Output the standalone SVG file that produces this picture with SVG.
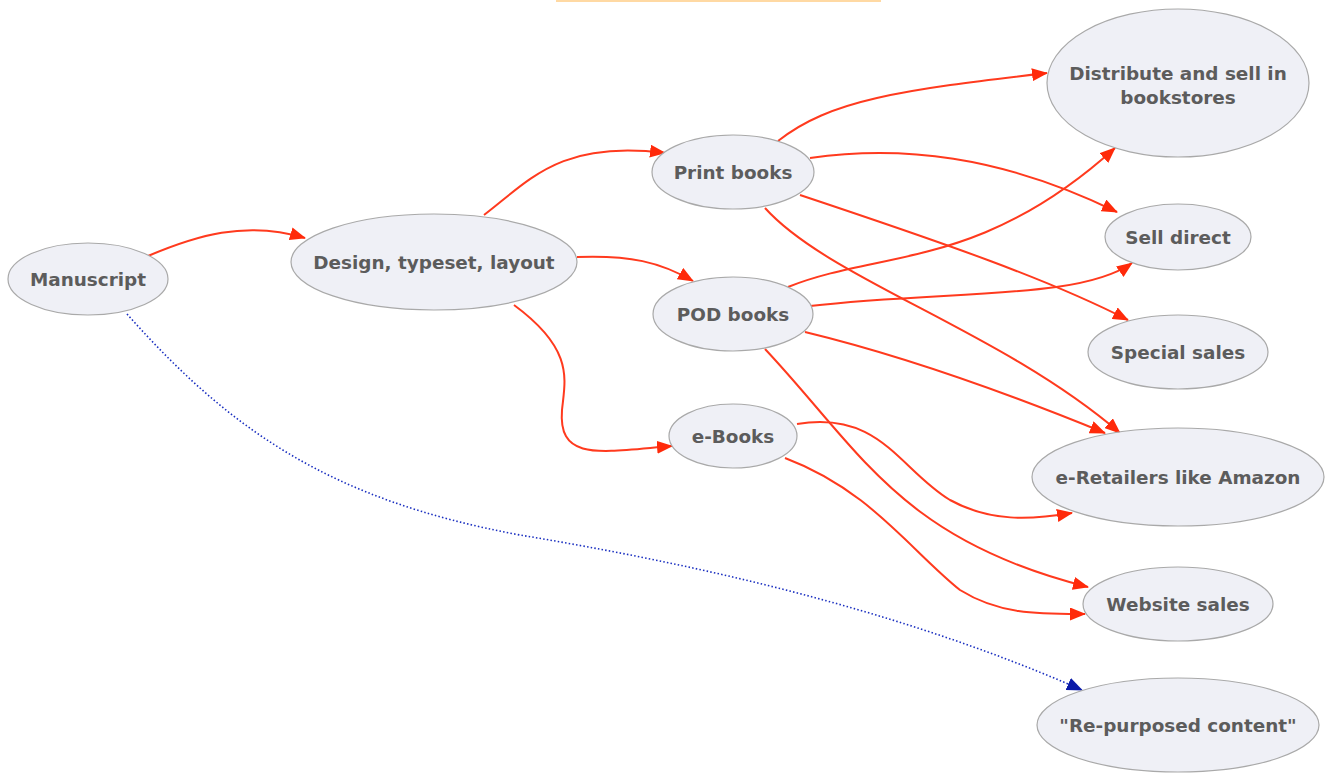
<svg xmlns="http://www.w3.org/2000/svg" width="1328" height="774" viewBox="0 0 1328 774">
<style>
.n ellipse{fill:#eff0f6;stroke:#a9a9a9;stroke-width:1.2}
.n text{font-family:"DejaVu Sans",Verdana,sans-serif;font-weight:bold;font-size:18.4px;fill:#5c5c5c;text-anchor:middle}
.e path{fill:none;stroke:#ff3a1e;stroke-width:2}
.e path.d{stroke:#1a2fc0;stroke-width:1.6;stroke-dasharray:1.5 2.2}
</style>
<defs>
<marker id="ar" viewBox="0 0 16 13" refX="15" refY="6.5" markerWidth="16" markerHeight="13" markerUnits="userSpaceOnUse" orient="auto"><path d="M0,0 L16,6.5 L0,13 Z" fill="#ff2a0a"/></marker>
<marker id="ab" viewBox="0 0 16 13" refX="15" refY="6.5" markerWidth="16" markerHeight="13" markerUnits="userSpaceOnUse" orient="auto"><path d="M0,0 L16,6.5 L0,13 Z" fill="#0a1aa8"/></marker>
</defs>
<rect x="556" y="0" width="325" height="2" fill="#ffd9a3"/>
<g class="e" id="connectors">
<path marker-end="url(#ar)" d="M148,256 C195,236 245,220 305,238"/>
<path marker-end="url(#ar)" d="M484,215 C530,180 560,140 665,153"/>
<path marker-end="url(#ar)" d="M577,257 C630,255 660,262 693,281"/>
<path marker-end="url(#ar)" d="M514,305 C575,350 565,380 562,410 C558,462 600,452 672,446"/>
<path marker-end="url(#ar)" d="M778,141 C830,100 900,90 1047,73"/>
<path marker-end="url(#ar)" d="M810,158 C900,145 1000,155 1117,212"/>
<path marker-end="url(#ar)" d="M800,195 C950,245 1050,280 1128,320"/>
<path marker-end="url(#ar)" d="M765,208 C830,280 1000,330 1120,433"/>
<path marker-end="url(#ar)" d="M788,287 C880,250 980,270 1115,148"/>
<path marker-end="url(#ar)" d="M810,306 C950,290 1080,300 1132,263"/>
<path marker-end="url(#ar)" d="M805,332 C900,355 1000,390 1105,433"/>
<path marker-end="url(#ar)" d="M765,349 C860,450 900,540 1088,587"/>
<path marker-end="url(#ar)" d="M797,424 C880,410 900,470 950,500 C990,522 1030,520 1072,513"/>
<path marker-end="url(#ar)" d="M785,458 C870,490 910,550 960,590 C1000,615 1040,614 1085,614"/>
<path class="d" marker-end="url(#ab)" d="M127,314 C230,430 330,500 520,535 C700,565 900,610 1082,690"/>
</g>
<g class="n" id="manuscript"><ellipse cx="88" cy="279" rx="80" ry="36"/><text x="88" y="286">Manuscript</text></g>
<g class="n" id="design"><ellipse cx="434" cy="262" rx="143" ry="48"/><text x="434" y="269">Design, typeset, layout</text></g>
<g class="n" id="print"><ellipse cx="733" cy="172" rx="81" ry="37"/><text x="733" y="179">Print books</text></g>
<g class="n" id="pod"><ellipse cx="733" cy="314" rx="80" ry="37"/><text x="733" y="321">POD books</text></g>
<g class="n" id="ebooks"><ellipse cx="733" cy="436" rx="64" ry="32"/><text x="733" y="443">e-Books</text></g>
<g class="n" id="distribute"><ellipse cx="1178" cy="83" rx="131" ry="74"/><text x="1178" y="80">Distribute and sell in</text><text x="1178" y="104">bookstores</text></g>
<g class="n" id="selldirect"><ellipse cx="1178" cy="237" rx="73" ry="33"/><text x="1178" y="244">Sell direct</text></g>
<g class="n" id="special"><ellipse cx="1178" cy="352" rx="90" ry="37"/><text x="1178" y="359">Special sales</text></g>
<g class="n" id="eretailers"><ellipse cx="1178" cy="477" rx="146" ry="49"/><text x="1178" y="484">e-Retailers like Amazon</text></g>
<g class="n" id="website"><ellipse cx="1178" cy="604" rx="95" ry="37"/><text x="1178" y="611">Website sales</text></g>
<g class="n" id="repurposed"><ellipse cx="1178" cy="725" rx="141" ry="47"/><text x="1178" y="732">"Re-purposed content"</text></g>
</svg>
